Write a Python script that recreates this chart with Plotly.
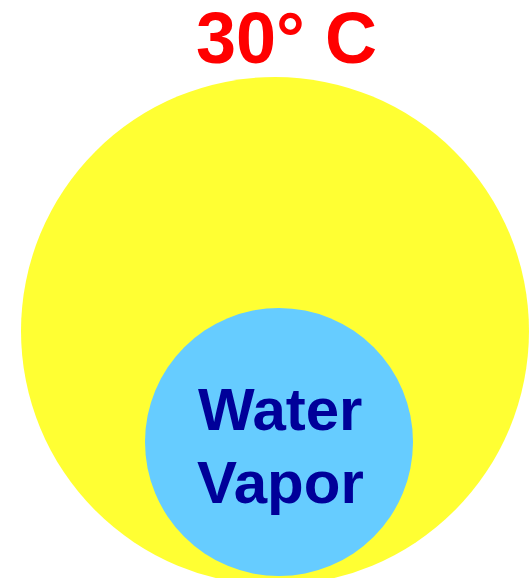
import plotly.graph_objects as go

# Diagram content
title_text = "30° C"
inner_label_lines = ["Water", "Vapor"]

# Circle geometry (pixel space: x to the right, y downward)
outer_circle = dict(cx=275, cy=331, r=254)
inner_circle = dict(cx=279, cy=442, r=134)

W, H = 531, 578

fig = go.Figure()

for c, fill in [(outer_circle, "#FFFF33"), (inner_circle, "#66CCFF")]:
    fig.add_shape(
        type="circle", xref="x", yref="y",
        x0=c["cx"] - c["r"], x1=c["cx"] + c["r"],
        y0=c["cy"] - c["r"], y1=c["cy"] + c["r"],
        fillcolor=fill, line=dict(width=0), layer="below",
    )

fig.add_annotation(
    x=286, y=38, xref="x", yref="y", text=title_text, showarrow=False,
    font=dict(family="Liberation Sans", size=72, color="#FF0000", weight="bold"),
    xanchor="center", yanchor="middle",
)

for i, line in enumerate(inner_label_lines):
    fig.add_annotation(
        x=280, y=409 + i * 73, xref="x", yref="y", text=line, showarrow=False,
        font=dict(family="Liberation Sans", size=60, color="#000099", weight="bold"),
        xanchor="center", yanchor="middle",
    )

fig.update_layout(
    width=W, height=H,
    margin=dict(l=0, r=0, t=0, b=0),
    paper_bgcolor="white", plot_bgcolor="white",
    showlegend=False,
    xaxis=dict(range=[0, W], visible=False, fixedrange=True),
    yaxis=dict(range=[H, 0], visible=False, fixedrange=True),
)

fig.write_html(
    "out.html",
    config={"displayModeBar": False},
    post_script="document.body.style.margin='0';document.body.style.overflow='hidden';",
)
